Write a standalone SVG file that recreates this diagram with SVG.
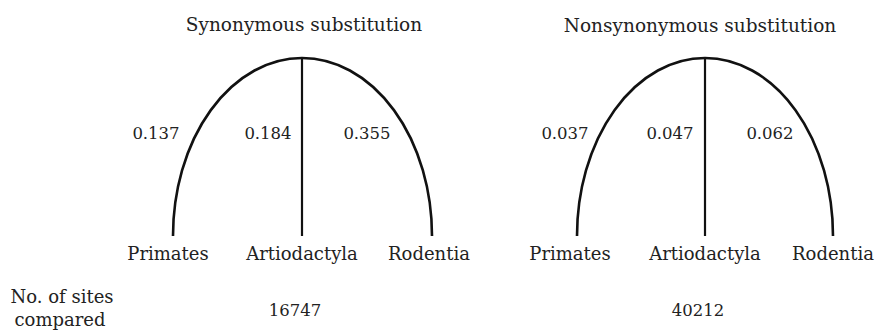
<svg xmlns="http://www.w3.org/2000/svg" width="880" height="332" viewBox="0 0 880 332">
<style>
text{font-family:"DejaVu Serif","Liberation Serif",serif;fill:#222;text-anchor:middle}
.t{font-size:18.5px}
.n{font-size:16.5px}
.l{font-size:18px}
.arc{fill:none;stroke:#111;stroke-width:2.6}
.v{stroke:#111;stroke-width:2.2}
</style>
<rect width="880" height="332" fill="#fff"/>
<g id="connectors">
<path class="arc" d="M173,236 A129,178 0 0 1 302,58 A130,178 0 0 1 432,236"/>
<line class="v" x1="302" y1="58" x2="302" y2="236"/>
<path class="arc" d="M577,236 A128,178 0 0 1 705,58 A128,178 0 0 1 833,236"/>
<line class="v" x1="705" y1="58" x2="705" y2="236"/>
</g>
<g id="title-syn"><text class="t" x="304" y="31">Synonymous substitution</text></g>
<g id="title-nonsyn"><text class="t" x="700" y="32">Nonsynonymous substitution</text></g>
<g id="syn-values">
<text class="n" x="156" y="139">0.137</text>
<text class="n" x="268" y="139">0.184</text>
<text class="n" x="367" y="139">0.355</text>
</g>
<g id="nonsyn-values">
<text class="n" x="565" y="139">0.037</text>
<text class="n" x="670" y="139">0.047</text>
<text class="n" x="770" y="139">0.062</text>
</g>
<g id="syn-primates"><text class="l" x="168" y="260">Primates</text></g>
<g id="syn-artiodactyla"><text class="l" x="302" y="260">Artiodactyla</text></g>
<g id="syn-rodentia"><text class="l" x="429" y="260">Rodentia</text></g>
<g id="nonsyn-primates"><text class="l" x="570" y="260">Primates</text></g>
<g id="nonsyn-artiodactyla"><text class="l" x="705" y="260">Artiodactyla</text></g>
<g id="nonsyn-rodentia"><text class="l" x="833" y="260">Rodentia</text></g>
<g id="sites-label">
<text class="l" x="62" y="303">No. of sites</text>
<text class="l" x="60" y="326">compared</text>
</g>
<g id="sites-syn"><text class="n" x="295" y="316">16747</text></g>
<g id="sites-nonsyn"><text class="n" x="698" y="316">40212</text></g>
</svg>
